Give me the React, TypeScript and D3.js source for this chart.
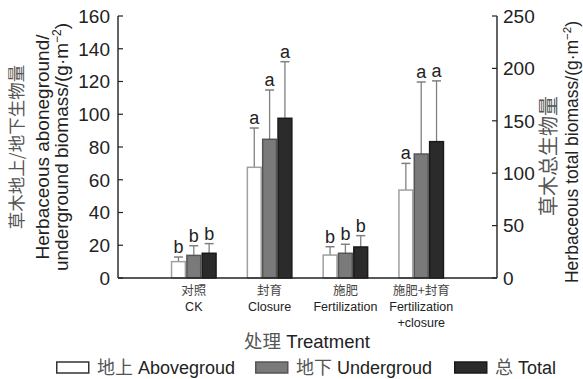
import React from "react";
import * as d3 from "d3";

const categoriesZh = ["对照", "封育", "施肥", "施肥+封育"];
const categoriesEn = [["CK"], ["Closure"], ["Fertilization"], ["Fertilization", "+closure"]];
const aboveValues = [10.0, 67.6, 14.0, 53.7];
const aboveErrors = [2.8, 24.0, 5.1, 16.3];
const aboveLetters = ["b", "a", "b", "a"];
const underValues = [13.8, 84.7, 15.1, 75.7];
const underErrors = [5.9, 30.1, 5.5, 44.0];
const underLetters = ["b", "a", "b", "a"];
const totalValues = [23.6, 152.4, 29.6, 130.1];
const totalErrors = [9.2, 54.0, 10.8, 58.0];
const totalLetters = ["b", "a", "b", "a"];
const leftTicks = [0, 20, 40, 60, 80, 100, 120, 140, 160];
const rightTicks = [0, 50, 100, 150, 200, 250];
const seriesNames = ["地上 Abovegroud", "地下 Undergroud", "总 Total"];

const W = 583;
const H = 379;
const M = { left: 118, right: 497, top: 16, bottom: 278 };
const LAT = "'Liberation Sans', Arial, sans-serif";
const CJK = "'Noto Sans CJK SC', sans-serif";

const styles = [
  { fill: "#ffffff", stroke: "#a0a0a0" },
  { fill: "#7a7a7a", stroke: "#555555" },
  { fill: "#2b2b2b", stroke: "#1a1a1a" },
];

export default function App() {
  const yL = d3.scaleLinear().domain([0, 160]).range([M.bottom, M.top]);
  const yR = d3.scaleLinear().domain([0, 250]).range([M.bottom, M.top]);
  const x = d3.scalePoint<string>().domain(categoriesZh).range([M.left, M.right]).padding(1);
  const inner = d3.scaleBand<number>().domain([0, 1, 2]).range([-23, 23]).padding(0);

  const series = [
    { values: aboveValues, errors: aboveErrors, letters: aboveLetters, scale: yL },
    { values: underValues, errors: underErrors, letters: underLetters, scale: yL },
    { values: totalValues, errors: totalErrors, letters: totalLetters, scale: yR },
  ];

  const legendX = [56, 255, 454];

  return (
    <svg width={W} height={H} style={{ position: "absolute", left: 0, top: 0 }}>
      <rect width={W} height={H} fill="#fff" />
      {/* bars */}
      {categoriesZh.map((c, i) => (
        <g key={c}>
          {series.map((s, k) => {
            const x0 = (x(c) as number) + (inner(k) as number);
            const bw = inner.bandwidth();
            const yTop = s.scale(s.values[i]);
            const yCap = s.scale(s.values[i] + s.errors[i]);
            const cx = x0 + bw / 2;
            return (
              <g key={k}>
                <line x1={cx} x2={cx} y1={yTop} y2={yCap} stroke="#808080" strokeWidth={1.3} />
                <line x1={cx - 4.5} x2={cx + 4.5} y1={yCap} y2={yCap} stroke="#808080" strokeWidth={1.5} />
                <rect
                  x={x0 + 0.75}
                  y={yTop}
                  width={bw - 1.5}
                  height={M.bottom - yTop}
                  fill={styles[k].fill}
                  stroke={styles[k].stroke}
                  strokeWidth={1.5}
                />
                <text
                  x={cx}
                  y={yCap - 4}
                  textAnchor="middle"
                  fontFamily={LAT}
                  fontSize={18}
                  fill="#222"
                >
                  {s.letters[i]}
                </text>
              </g>
            );
          })}
        </g>
      ))}
      {/* axes */}
      <line x1={M.left} x2={M.left} y1={M.top} y2={M.bottom} stroke="#222" strokeWidth={1.4} />
      <line x1={M.right} x2={M.right} y1={M.top} y2={M.bottom} stroke="#222" strokeWidth={1.4} />
      <line x1={M.left} x2={M.right} y1={M.bottom} y2={M.bottom} stroke="#222" strokeWidth={1.4} />
      {leftTicks.map((t) => (
        <g key={"l" + t}>
          <line x1={M.left} x2={M.left + 5} y1={yL(t)} y2={yL(t)} stroke="#222" strokeWidth={1.2} />
          <text x={M.left - 8} y={yL(t)} dy="0.36em" textAnchor="end" fontFamily={LAT} fontSize={19} fill="#222">
            {t}
          </text>
        </g>
      ))}
      {rightTicks.map((t) => (
        <g key={"r" + t}>
          <line x1={M.right - 5} x2={M.right} y1={yR(t)} y2={yR(t)} stroke="#222" strokeWidth={1.2} />
          <text x={M.right + 6} y={yR(t)} dy="0.36em" textAnchor="start" fontFamily={LAT} fontSize={19} fill="#222">
            {t}
          </text>
        </g>
      ))}
      {/* x tick labels */}
      {categoriesZh.map((c, i) => (
        <g key={"xt" + c} transform={`translate(${x(c)},0)`}>
          <text y={295} textAnchor="middle" fontFamily={CJK} fontSize={12.5} fill="#444">
            {c}
          </text>
          {categoriesEn[i].map((line, j) => (
            <text key={j} y={311 + j * 15.5} textAnchor="middle" fontFamily={LAT} fontSize={12.5} fill="#222">
              {line}
            </text>
          ))}
        </g>
      ))}
      {/* left axis title */}
      <g transform="translate(23,147) rotate(-90)">
        <text textAnchor="middle" fontFamily={CJK} fontSize={17.5} fill="#555">草木地上/地下生物量</text>
      </g>
      <g transform="translate(49,147) rotate(-90)">
        <text textAnchor="middle" fontFamily={LAT} fontSize={19} fill="#222">Herbaceous aboneground/</text>
      </g>
      <g transform="translate(68,147) rotate(-90)">
        <text textAnchor="middle" fontFamily={LAT} fontSize={19} fill="#222">
          underground biomass/(g·m<tspan dy="-7" fontSize={12}>−2</tspan><tspan dy="7">)</tspan>
        </text>
      </g>
      {/* right axis title */}
      <g transform="translate(556,156) rotate(-90)">
        <text textAnchor="middle" fontFamily={CJK} fontSize={20} fill="#555">草木总生物量</text>
      </g>
      <g transform="translate(577.5,152) rotate(-90)">
        <text textAnchor="middle" fontFamily={LAT} fontSize={17.5} fill="#222">
          Herbaceous total biomass/(g·m<tspan dy="-7" fontSize={11.5}>−2</tspan><tspan dy="7">)</tspan>
        </text>
      </g>
      {/* x axis title */}
      <text x={307} y={348} textAnchor="middle" fontSize={18.5} fill="#222">
        <tspan fontFamily={CJK} fill="#555">处理</tspan>
        <tspan fontFamily={LAT}> Treatment</tspan>
      </text>
      {/* legend */}
      {seriesNames.map((n, k) => {
        const [zh, en] = n.split(" ");
        return (
          <g key={n} transform={`translate(${legendX[k]},0)`}>
            <rect x={0.75} y={362} width={32} height={11} fill={styles[k].fill} stroke={k === 0 ? "#333" : styles[k].stroke} strokeWidth={1.5} />
            <text x={41} y={374} fontSize={18} fill="#222">
              <tspan fontFamily={CJK} fill="#555">{zh}</tspan>
              <tspan fontFamily={LAT}> {en}</tspan>
            </text>
          </g>
        );
      })}
    </svg>
  );
}
